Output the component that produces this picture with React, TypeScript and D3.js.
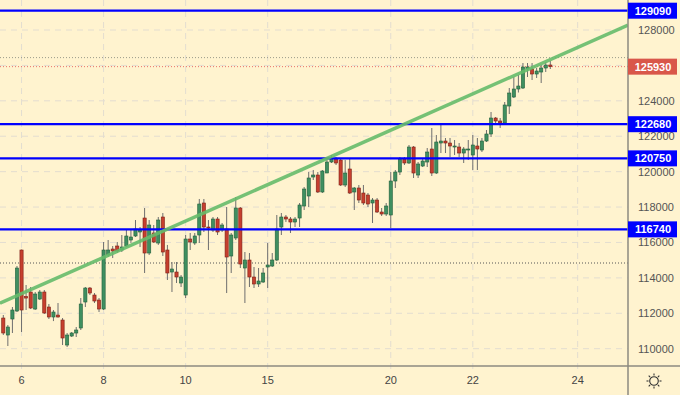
import React, { useEffect } from 'react';
import * as d3 from 'd3';

// candle OHLC, one entry per bar (left to right)
const opens = [
  111733, 110773, 111677, 112128, 115574, 112950, 113202, 112241, 112806, 113202,
  112354, 111790, 111902, 111620, 110208, 110716, 110886, 111169, 112637, 113428,
  113032, 112750, 112241, 115291, 115630, 115800, 115574, 115800, 116139, 116365,
  116591, 117381, 115404, 116534, 115969, 117438, 115574, 114331, 114331, 113710,
  113032, 116195, 115969, 116421, 118229, 116873, 116704, 117325, 116704, 116760,
  115235, 116252, 117946, 114557, 115009, 114049, 113654, 113767, 114614, 114670,
  115009, 116873, 117438, 117325, 117155, 117381, 118059, 118624, 119697, 119810,
  118850, 119923, 120544, 120714, 120657, 119245, 120149, 118850, 119076, 118793,
  118680, 118229, 118398, 117720, 117607, 117551, 119471, 119979, 120714, 120488,
  121391, 119810, 120318, 120544, 121278, 119923, 121617, 121730, 121617, 121391,
  121391, 121052, 121222, 120940, 121448, 121222, 121730, 122126, 123029, 122860,
  122747, 123707, 124215, 124667, 124724, 125797, 125797, 125514, 125627, 125853,
  126023,
];
const highs = [
  111902, 111338, 112354, 114670, 115600, 113597, 113484, 113202, 113315, 113315,
  112524, 112185, 112580, 111733, 110886, 110943, 111225, 112863, 113484, 113484,
  113145, 112863, 116026, 116139, 115800, 116026, 116421, 116760, 116704, 117268,
  116873, 117946, 117268, 116986, 117438, 117664, 115860, 114896, 114896, 114162,
  116421, 116534, 116534, 118455, 118455, 117268, 117438, 117438, 117099, 118003,
  116534, 118567, 118003, 115461, 115404, 114614, 114557, 114557, 115969, 115404,
  117551, 117664, 117551, 117438, 117438, 118229, 119132, 119979, 120092, 119979,
  120092, 120714, 120940, 120827, 120770, 120657, 120714, 119132, 119245, 119245,
  118793, 118511, 118511, 117946, 118229, 119979, 120092, 120827, 120827, 121504,
  121448, 120544, 120770, 121335, 122465, 122069, 122634, 121900, 121900, 121787,
  121617, 121391, 121787, 122069, 121900, 121900, 122352, 123368, 123086, 123029,
  123933, 124724, 125345, 125458, 126136, 126136, 126136, 125853, 126023, 126192,
  126249,
];
const lows = [
  110773, 110152, 110886, 112072, 110943, 112185, 112241, 112185, 112750, 111959,
  111677, 111560, 111760, 110208, 110095, 110660, 110660, 111056, 112354, 113032,
  112580, 112072, 112185, 115178, 115120, 115404, 115461, 115743, 115969, 116308,
  115743, 114275, 115291, 115969, 115860, 115235, 113880, 113202, 113710, 113484,
  112863, 115574, 115860, 115969, 116591, 115574, 116591, 116421, 116591, 113145,
  114275, 116139, 114557, 112580, 113484, 113428, 113484, 113710, 113428, 114614,
  114950, 116421, 117155, 116534, 116873, 116873, 117833, 118003, 119528, 118793,
  118793, 119923, 120488, 120375, 119190, 119132, 118740, 117833, 118229, 118116,
  118003, 117099, 117664, 117494, 117494, 116817, 119076, 119810, 120375, 120431,
  119641, 119641, 120262, 120262, 119754, 119870, 121052, 121052, 120827, 120940,
  120827, 120488, 120657, 120092, 120092, 121109, 121674, 121956, 122747, 122465,
  122690, 123255, 124159, 124470, 124667, 125345, 125176, 125289, 125006, 125627,
  125797,
];
const closes = [
  110886, 111225, 112185, 114557, 112185, 112860, 112298, 113089, 113202, 112015,
  111790, 112072, 111790, 110604, 110773, 110886, 111056, 112524, 113428, 113145,
  112693, 112241, 115574, 115574, 115517, 115517, 115743, 116365, 116308, 116760,
  116704, 115404, 116986, 116026, 117268, 115461, 114275, 114501, 114049, 114049,
  116195, 116026, 116365, 118172, 116873, 116817, 117325, 116591, 116986, 115178,
  116421, 117946, 114783, 115009, 114049, 113654, 113823, 114275, 114727, 115009,
  116760, 117438, 117325, 117155, 117325, 118116, 119019, 119641, 119810, 118850,
  120036, 120544, 120714, 120488, 119245, 119923, 118793, 119076, 118398, 118229,
  118172, 118398, 117720, 117607, 118059, 119471, 119979, 120714, 120488, 121391,
  119923, 120431, 120601, 121109, 119923, 121674, 121730, 121617, 121448, 121448,
  121052, 121278, 121278, 121504, 121278, 121730, 122126, 123029, 122860, 122747,
  123764, 124441, 124667, 124837, 125910, 125910, 125514, 125684, 125853, 126023,
  125930,
];

// x-axis day labels and the bar where each day begins
const dayLabels = ['6', '8', '10', '15', '20', '22', '24'];
const dayBars = [4, 22, 40, 58, 85, 103, 126];

const priceTicks = [110000, 112000, 114000, 116000, 118000, 120000, 122000, 124000, 126000, 128000];

// horizontal support / resistance levels
const levels = [129090, 122680, 120750, 116740];
const lastPrice = 125930;
const dottedLevels = [126440, 114840];

// trend line through two anchor bars
const trendBars = [0, 120];
const trendValues = [112650, 126330];

const W = 680;
const H = 395;
const plotR = 628;
const plotB = 366;
const font = 'Arial, "Liberation Sans", sans-serif';

export default function App() {
  useEffect(() => {
    document.body.style.margin = '0';
  }, []);

  const x = d3.scaleLinear().domain([0, opens.length - 1]).range([3.3, 550.3]);
  const y = d3.scaleLinear().domain([110000, 128000]).range([348.7, 30]);

  const trendAt = d3.scaleLinear().domain(trendBars).range(trendValues);
  const trendPath = d3.line()([
    [0, y(trendAt(x.invert(0)))],
    [plotR, y(trendAt(x.invert(plotR)))],
  ]);

  const bodyW = 3.2;

  // badges hide the tick label they sit on
  const badgeYs = [...levels, lastPrice].map((v) => y(v));
  const visibleTicks = priceTicks.filter((t) => badgeYs.every((by) => Math.abs(by - y(t)) > 8));

  return (
    <svg width={W} height={H} style={{ display: 'block', background: '#fff3cf' }}>
      <defs>
        <clipPath id="plot">
          <rect x={0} y={0} width={plotR} height={plotB} />
        </clipPath>
      </defs>
      <rect x={0} y={0} width={W} height={H} fill="#fff3cf" />

      {/* grid */}
      <g stroke="#e3ddd0" strokeWidth={1} strokeDasharray="6 5">
        {priceTicks.map((t) => (
          <line key={t} x1={0} x2={plotR} y1={y(t)} y2={y(t)} />
        ))}
        {dayBars.map((b) => (
          <line key={b} x1={x(b)} x2={x(b)} y1={0} y2={plotB + 6} />
        ))}
      </g>

      <g clipPath="url(#plot)">
        {dottedLevels.map((v, i) => (
          <line
            key={v}
            x1={0}
            x2={plotR}
            y1={y(v)}
            y2={y(v)}
            stroke={i === 0 ? '#9a9a8a' : '#555'}
            strokeWidth={1}
            strokeDasharray="1 2"
          />
        ))}
        <line
          x1={0}
          x2={plotR}
          y1={y(lastPrice)}
          y2={y(lastPrice)}
          stroke="#e8706a"
          strokeWidth={1}
          strokeDasharray="1 2"
        />

        {/* candles */}
        {opens.map((o, i) => {
          const c = closes[i];
          const up = c >= o;
          const top = y(Math.max(o, c));
          const bot = y(Math.min(o, c));
          return (
            <g key={i}>
              <line x1={x(i)} x2={x(i)} y1={y(highs[i])} y2={y(lows[i])} stroke="#6e6e6e" strokeWidth={1} />
              <rect
                x={x(i) - bodyW / 2}
                y={top}
                width={bodyW}
                height={Math.max(1, bot - top)}
                fill={up ? '#3f8f60' : '#c63f2e'}
                stroke={up ? '#22603c' : '#7d2016'}
                strokeWidth={0.6}
              />
            </g>
          );
        })}

        {levels.map((v) => (
          <line key={v} x1={0} x2={plotR} y1={y(v)} y2={y(v)} stroke="#0000ff" strokeWidth={2.2} />
        ))}

        <path d={trendPath} stroke="#66bb6a" strokeWidth={3.5} strokeOpacity={0.9} fill="none" />
      </g>

      {/* axes frame */}
      <line x1={plotR} x2={plotR} y1={0} y2={H} stroke="#8c8a80" strokeWidth={1.5} />
      <line x1={0} x2={W} y1={plotB} y2={plotB} stroke="#8c8a80" strokeWidth={1.5} />

      {/* price tick labels */}
      <g fontFamily={font} fontSize={11} fill="#555">
        {visibleTicks.map((t) => (
          <text key={t} x={638} y={y(t)} dy="0.36em">
            {t}
          </text>
        ))}
      </g>

      {/* day labels */}
      <g fontFamily={font} fontSize={11} fill="#444" textAnchor="middle">
        {dayLabels.map((d, i) => (
          <text key={d} x={x(dayBars[i])} y={384}>
            {d}
          </text>
        ))}
      </g>

      {/* level badges */}
      {levels.map((v) => (
        <g key={v}>
          <rect x={plotR} y={y(v) - 8} width={49} height={16} fill="#0000ff" />
          <text
            x={plotR + 25}
            y={y(v)}
            dy="0.36em"
            textAnchor="middle"
            fontFamily={font}
            fontSize={11}
            fontWeight="bold"
            fill="#fff"
          >
            {v}
          </text>
        </g>
      ))}
      <rect x={plotR} y={y(lastPrice) - 8} width={49} height={16} fill="#d9574a" />
      <text
        x={plotR + 25}
        y={y(lastPrice)}
        dy="0.36em"
        textAnchor="middle"
        fontFamily={font}
        fontSize={11}
        fontWeight="bold"
        fill="#fff"
      >
        {lastPrice}
      </text>

      {/* settings icon */}
      <g transform="translate(654,381)" stroke="#333" strokeWidth={1.1} fill="none">
        <circle r={4.3} />
        {d3.range(8).map((k) => {
          const a = (k * Math.PI) / 4;
          return (
            <line key={k} x1={Math.cos(a) * 5.5} y1={Math.sin(a) * 5.5} x2={Math.cos(a) * 7.5} y2={Math.sin(a) * 7.5} />
          );
        })}
      </g>
    </svg>
  );
}
